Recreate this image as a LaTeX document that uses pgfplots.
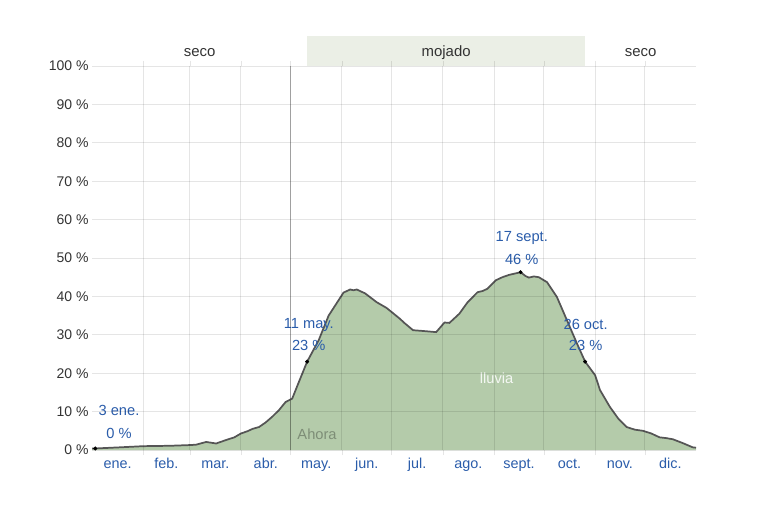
\documentclass[border=0pt]{standalone}
\usepackage{pgfplots}
\usepackage{pgfplotstable}
\pgfplotsset{compat=1.18}
\usepackage{fontspec}
\setmainfont{Liberation Sans}
\definecolor{fillg}{HTML}{B4CBAA}
\definecolor{lineg}{HTML}{555555}
\definecolor{lblue}{HTML}{2A5CAA}
\definecolor{bandc}{HTML}{EBEFE6}
\definecolor{ytxt}{HTML}{333333}
\pgfplotstableread{
day val
0 0.4
2 0.4
17 0.7
31 1.0
47 1.1
60 1.3
63 1.4
69 2.1
75 1.7
81 2.6
86 3.3
90 4.3
94 4.9
97 5.5
101 6.0
105 7.2
109 8.7
113 10.4
117 12.5
121 13.4
125 17.7
130 23.0
137 28.6
143 35.0
149 39.0
152 41.0
156 41.8
158 41.6
160 41.8
165 40.8
172 38.5
178 37.0
182 35.6
186 34.2
189 33.0
194 31.2
200 31.0
208 30.7
213 33.2
216 33.1
222 35.5
227 38.5
233 41.1
236 41.4
239 42.0
244 44.2
248 45.0
252 45.6
256 46.0
259 46.3
262 45.3
264 44.9
267 45.2
270 45.0
275 43.7
281 39.8
287 33.8
293 27.8
298 23.0
304 19.5
307 15.6
313 11.2
318 8.2
323 6.0
328 5.3
333 5.0
338 4.3
343 3.3
347 3.1
351 2.8
357 1.8
363 0.7
365 0.6
}\rain
\begin{document}
\begin{tikzpicture}[x=1pt,y=1pt]
\path[use as bounding box] (-69,-43.5) rectangle (505.5,337.5);
\begin{axis}[
  at={(0,0)}, anchor=south west,
  scale only axis, width=453pt, height=288pt,
  xmin=0, xmax=365, ymin=0, ymax=100,
  clip=false, axis on top,
  axis line style={draw=none},
  xtick={15.5,45,74.5,105,135.5,166,196.5,227.5,258,288.5,319,349.5},
  xticklabels={ene.,feb.,mar.,abr.,may.,jun.,jul.,ago.,sept.,oct.,nov.,dic.},
  minor xtick={31,59,90,120,151,181,212,243,273,304,334},
  xminorgrids, ymajorgrids,
  ytick={0,10,...,100},
  yticklabels={0 \%,10 \%,20 \%,30 \%,40 \%,50 \%,60 \%,70 \%,80 \%,90 \%,100 \%},
  major tick length=0pt, minor tick length=4pt, tick align=outside,
  minor tick style={black, opacity=0.1},
  grid style={black, opacity=0.1, line width=0.75pt},
  minor grid style={black, opacity=0.1, line width=0.75pt},
  xticklabel style={font=\fontsize{10.8}{12}\selectfont, text=lblue, text height=1.6ex, text depth=0.3ex, yshift=-2pt},
  yticklabel style={font=\fontsize{10.5}{12}\selectfont, text=ytxt, xshift=1pt},
]
\fill[bandc] (axis cs:130,100) rectangle (axis cs:298,107.8);
\node[font=\fontsize{11.2}{12}\selectfont, text=ytxt] at (axis cs:65,103.6) {seco};
\node[font=\fontsize{11.2}{12}\selectfont, text=ytxt] at (axis cs:214,103.6) {mojado};
\node[font=\fontsize{11.2}{12}\selectfont, text=ytxt] at (axis cs:331.5,103.6) {seco};
\addplot[draw=none, fill=fillg] table[x=day,y=val] {\rain} \closedcycle;
\addplot[black, opacity=0.3, line width=0.9pt] coordinates {(120,0) (120,100)};
\addplot[lineg, line width=1.3pt] table[x=day,y=val] {\rain};
\addplot[only marks, mark=*, mark size=1.3pt, black] coordinates {(2,0.4) (130,23.0) (259,46.3) (298,23.0)};
\node[font=\fontsize{11}{12}\selectfont, text=black, opacity=0.3] at (axis cs:136,4.2) {Ahora};
\node[font=\fontsize{11}{12}\selectfont, text=white, opacity=0.85] at (axis cs:244.5,18.8) {lluvia};
\tikzset{ann/.style={font=\fontsize{11}{12}\selectfont, text=lblue}}
\node[ann] at (axis cs:16.3,10.2) {3 ene.};
\node[ann] at (axis cs:16.3,4.4) {0 \%};
\node[ann] at (axis cs:131,32.6) {11 may.};
\node[ann] at (axis cs:131,27.1) {23 \%};
\node[ann] at (axis cs:259.7,55.2) {17 sept.};
\node[ann] at (axis cs:259.7,49.7) {46 \%};
\node[ann] at (axis cs:298.3,32.6) {26 oct.};
\node[ann] at (axis cs:298.3,27.1) {23 \%};
\end{axis}
\end{tikzpicture}
\end{document}
